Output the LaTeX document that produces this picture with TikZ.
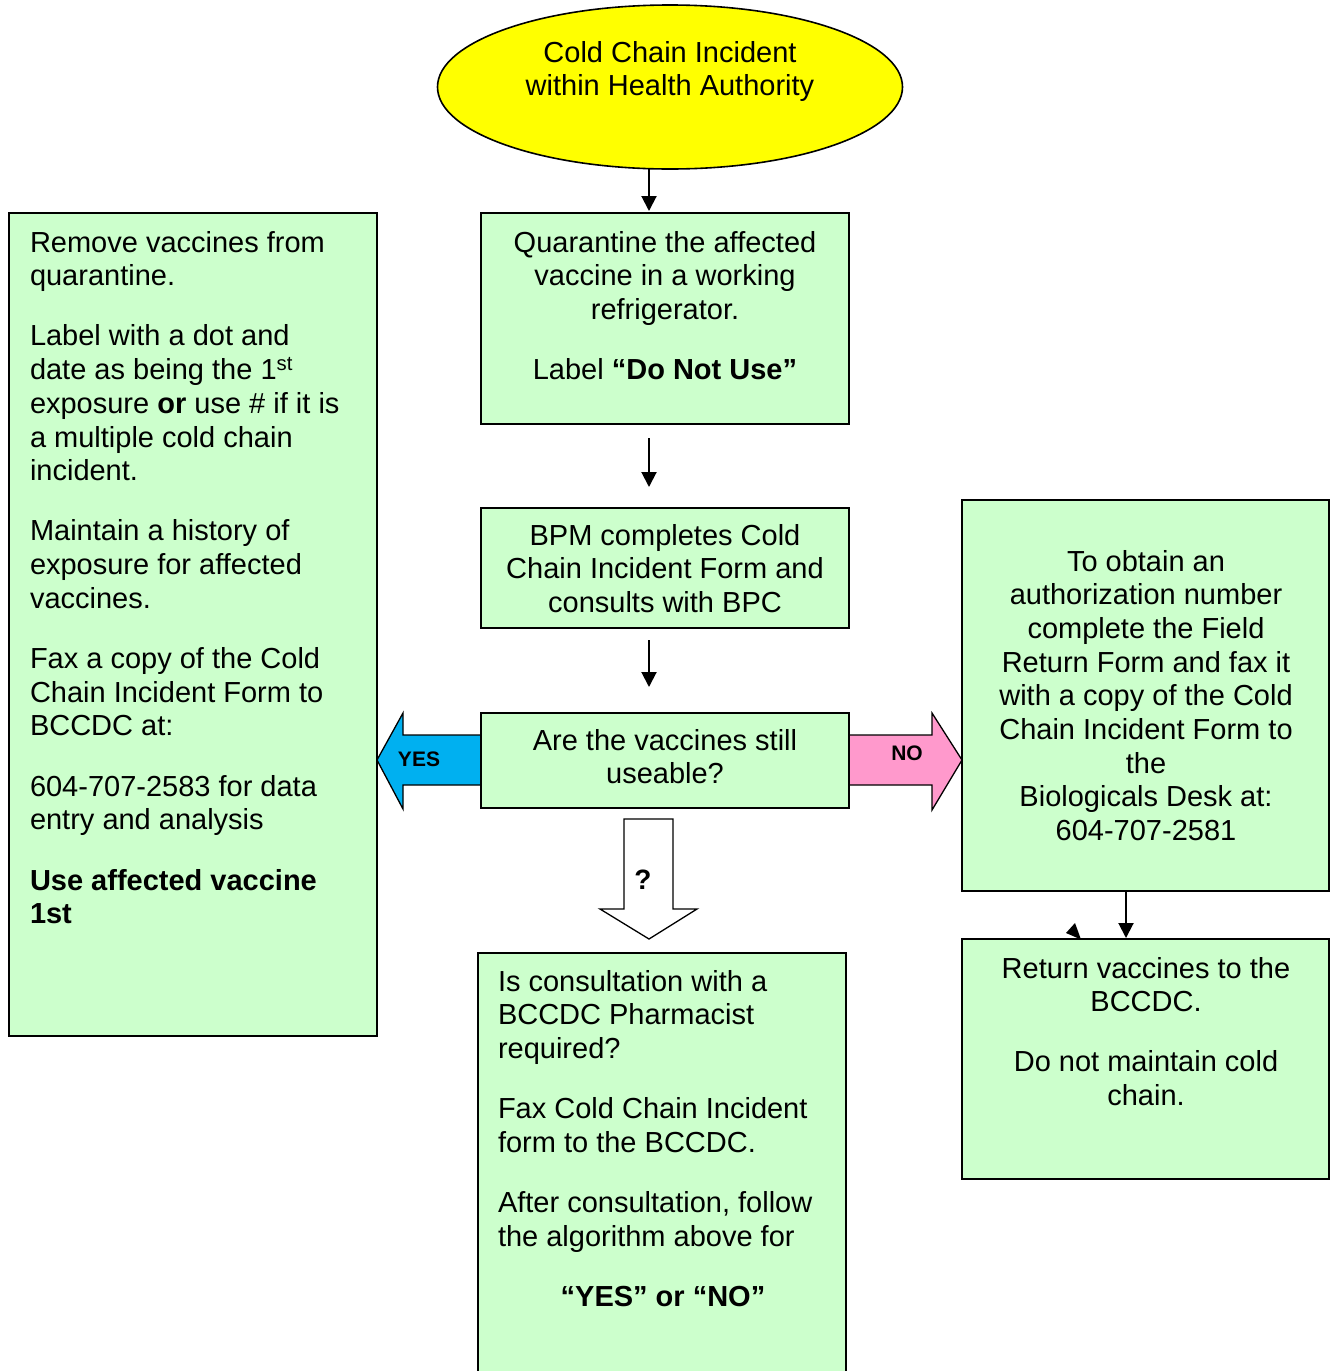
\documentclass[tikz,border=0pt]{standalone}
\usepackage{fontspec}
\setmainfont{Liberation Sans}
\usetikzlibrary{arrows.meta,shapes.geometric}
\definecolor{boxgreen}{HTML}{CCFFCC}
\definecolor{yesblue}{HTML}{00B0F0}
\definecolor{nopink}{HTML}{FF99CC}
\definecolor{ellyellow}{HTML}{FFFF00}
\newcommand{\boxtext}[2]{\parbox[t]{#1}{\fontsize{29}{33.7}\selectfont\setlength{\parskip}{26.5pt}\setlength{\parindent}{0pt}#2}}
\begin{document}
\begin{tikzpicture}[x=1pt,y=-1pt,
  box/.style={draw=black,line width=1.6pt,fill=boxgreen,rectangle,inner sep=0pt,outer sep=0pt},
  txt/.style={inner sep=0pt,outer sep=0pt},
  flow/.style={draw=black,line width=2pt,-{Triangle[length=15pt,width=15pt]}},
  blockarrow/.style={draw=black,line width=1.3pt,line join=miter},
  arrowlabel/.style={inner sep=0pt,font=\bfseries\fontsize{21}{24}\selectfont}]

\useasboundingbox (0,0) rectangle (1330,1371);
\fill[white] (0,0) rectangle (1330,1371);

% block arrows
\draw[blockarrow,fill=yesblue] (481,735) -- (403,735) -- (403,713) -- (377,760) -- (403,809) -- (403,785) -- (481,785) -- cycle;
\draw[blockarrow,fill=nopink] (849,735) -- (932,735) -- (932,713) -- (962,760) -- (932,810) -- (932,785) -- (849,785) -- cycle;
\draw[blockarrow,fill=white] (624,819) -- (673,819) -- (673,909) -- (697,909) -- (649,939) -- (600,909) -- (624,909) -- cycle;

% start ellipse
\node[ellipse,draw=black,line width=1.6pt,fill=ellyellow,minimum width=465pt,minimum height=164pt,inner sep=0pt] (start) at (670,87) {};
\node[txt,anchor=base] (starttxt) at (670,62) {\boxtext{420pt}{\centering Cold Chain Incident\\within Health Authority}};

% boxes
\node[box,minimum width=368pt,minimum height=823pt] (left) at (193,624.5) {};
\node[box,minimum width=368pt,minimum height=211pt] (b1) at (665,318.5) {};
\node[box,minimum width=368pt,minimum height=120pt] (b2) at (665,568) {};
\node[box,minimum width=368pt,minimum height=95pt] (b3) at (665,760.5) {};
\node[box,minimum width=368pt,minimum height=447pt] (b4) at (662,1176.5) {};
\node[box,minimum width=367pt,minimum height=391pt] (r1) at (1145.5,695.5) {};
\node[box,minimum width=367pt,minimum height=240pt] (r2) at (1145.5,1059) {};

% texts
\node[txt,anchor=base west] (lefttxt) at (30,252) {\boxtext{345pt}{\raggedright
Remove vaccines from\\quarantine.\par
Label with a dot and\\date as being the 1\textsuperscript{st}\\exposure \textbf{or} use \# if it is\\a multiple cold chain\\incident.\par
Maintain a history of\\exposure for affected\\vaccines.\par
Fax a copy of the Cold\\Chain Incident Form to\\BCCDC at:\par
604-707-2583 for data\\entry and analysis\par
\textbf{Use affected vaccine\\1st}}};

\node[txt,anchor=base] (b1txt) at (665,252) {\boxtext{360pt}{\centering
Quarantine the affected\\vaccine in a working\\refrigerator.\par
Label \textbf{“Do Not Use”}}};

\node[txt,anchor=base] (b2txt) at (665,545) {\boxtext{360pt}{\centering
BPM completes Cold\\Chain Incident Form and\\consults with BPC}};

\node[txt,anchor=base] (b3txt) at (665,750) {\boxtext{360pt}{\centering
Are the vaccines still\\useable?}};

\node[txt,anchor=base west] (b4txt) at (498,991) {\boxtext{330pt}{\raggedright
Is consultation with a\\BCCDC Pharmacist\\required?\par
Fax Cold Chain Incident\\form to the BCCDC.\par
After consultation, follow\\the algorithm above for\par
{\centering\textbf{“YES” or “NO”}\par}}};

\node[txt,anchor=base] (r1txt) at (1146,571) {\boxtext{360pt}{\centering
To obtain an\\authorization number\\complete the Field\\Return Form and fax it\\with a copy of the Cold\\Chain Incident Form to\\the\\Biologicals Desk at:\\604-707-2581}};

\node[txt,anchor=base] (r2txt) at (1146,978) {\boxtext{360pt}{\centering
Return vaccines to the\\BCCDC.\par
Do not maintain cold\\chain.}};

% arrow labels
\node[arrowlabel] (yes) at (419,759) {YES};
\node[arrowlabel] (no) at (907,753) {NO};
\node[arrowlabel,font=\bfseries\fontsize{28}{32}\selectfont] (q) at (643,880) {?};

% connectors
\coordinate (a1s) at (649,169);
\draw[flow] (a1s) -- ([yshift=2pt]a1s |- b1.north);
\coordinate (a2s) at (649,438);
\coordinate (a2e) at (649,487);
\draw[flow] (a2s) -- (a2e);
\coordinate (a3s) at (649,640);
\coordinate (a3e) at (649,687);
\draw[flow] (a3s) -- (a3e);
\coordinate (a4) at (1126,891);
\draw[flow] (a4 |- r1.south) -- ([yshift=1pt]a4 |- r2.north);
% stray arrowhead
\fill[black] (1066,933) -- (1075,923) -- (1081,939.5) -- cycle;
\end{tikzpicture}
\end{document}
